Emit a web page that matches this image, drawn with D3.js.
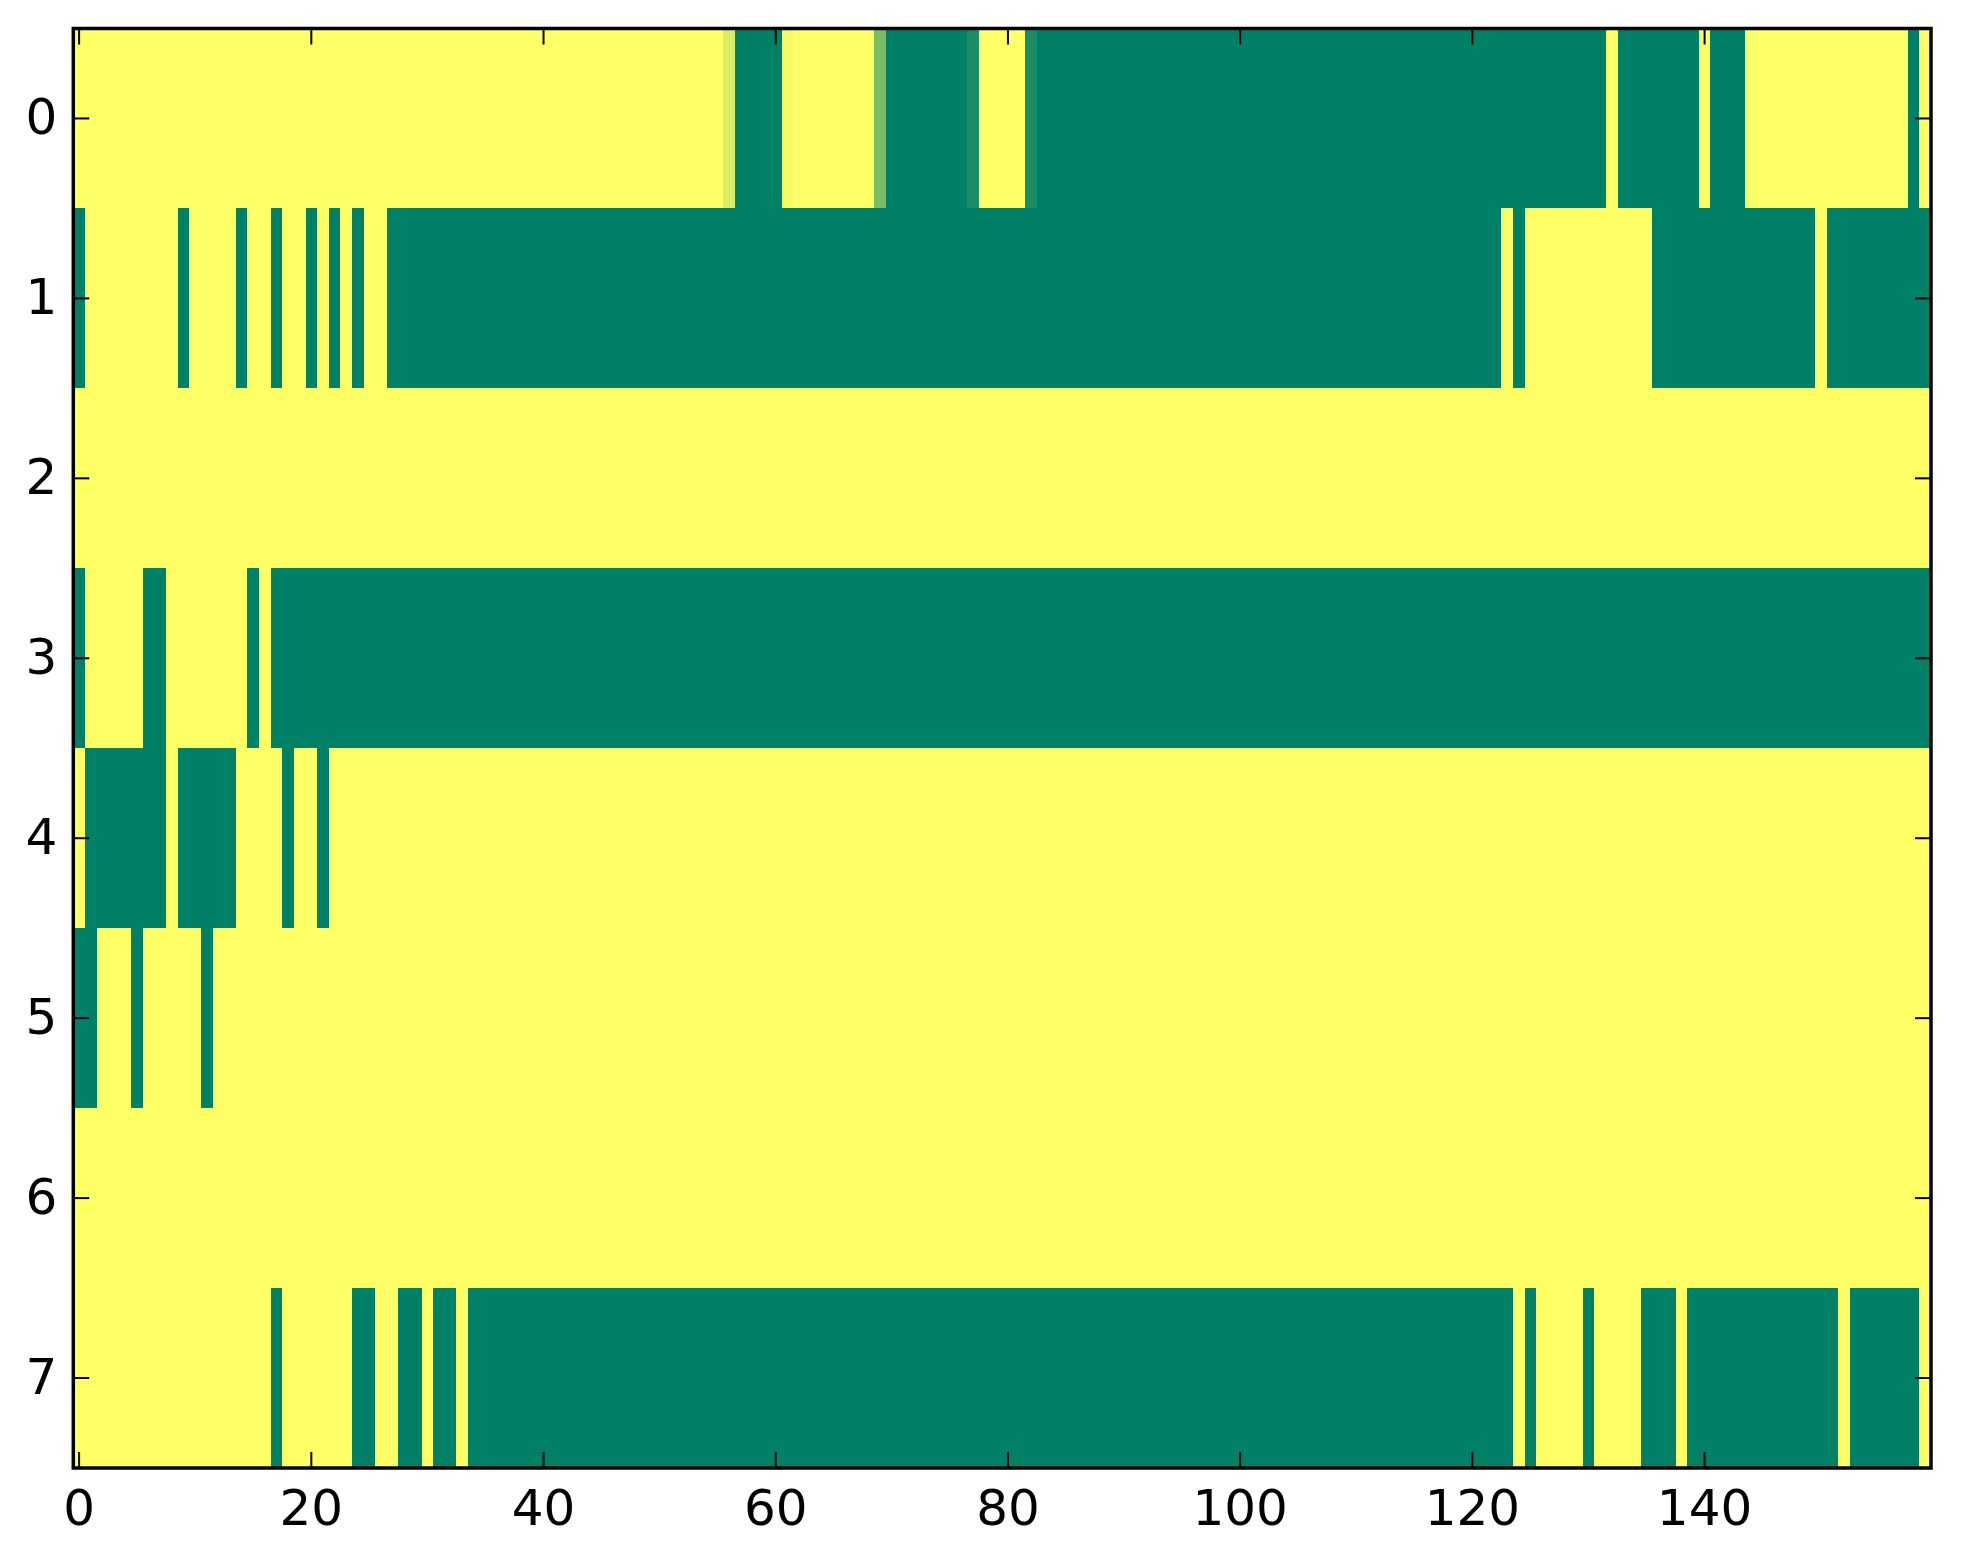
<!DOCTYPE html>
<html>
<head>
<meta charset="utf-8">
<script src="https://cdn.jsdelivr.net/npm/d3@7"></script>
<style>
  body { margin: 0; background: #fff; }
  svg { display: block; }
</style>
</head>
<body>
<div id="chart"></div>
<script>
// each row is a list of runs: [value, number of cells], 1 = yellow, 0 = green
var row0 = [[1,56],[0.85,1],[0,4],[0.96,1],[1,7],[0.47,1],[0,7],[0.1,1],[1,4],[0.1,1],[0,49],[1,1],[0,7],[1,1],[0,3],[1,14],[0,1],[1,1]];
var row1 = [[0,1],[1,8],[0,1],[1,4],[0,1],[1,2],[0,1],[1,2],[0,1],[1,1],[0,1],[1,1],[0,1],[1,2],[0,96],[1,1],[0,1],[1,11],[0,14],[1,1],[0,9]];
var row2 = [[1,160]];
var row3 = [[0,1],[1,5],[0,2],[1,7],[0,1],[1,1],[0,143]];
var row4 = [[1,1],[0,7],[1,1],[0,5],[1,4],[0,1],[1,2],[0,1],[1,138]];
var row5 = [[0,2],[1,3],[0,1],[1,5],[0,1],[1,148]];
var row6 = [[1,160]];
var row7 = [[1,17],[0,1],[1,6],[0,2],[1,2],[0,2],[1,1],[0,2],[1,1],[0,90],[1,1],[0,1],[1,4],[0,1],[1,4],[0,3],[1,1],[0,13],[1,1],[0,6],[1,1]];

var rows = [row0, row1, row2, row3, row4, row5, row6, row7];
var xTicks = [0, 20, 40, 60, 80, 100, 120, 140];
var yTicks = [0, 1, 2, 3, 4, 5, 6, 7];

var nCols = 160;

// set the dimensions and margins of the graph
var W = 1963, H = 1564;
var margin = {top: 28.5, right: 32, bottom: 96, left: 73.3},
    width = W - margin.left - margin.right,
    height = H - margin.top - margin.bottom;

var svg = d3.select("#chart")
  .append("svg")
    .attr("width", W)
    .attr("height", H)
  .append("g")
    .attr("transform", "translate(" + margin.left + "," + margin.top + ")");

// expand runs into cells
var cells = [];
rows.forEach(function(r, ri) {
  var c = 0;
  r.forEach(function(run) {
    for (var k = 0; k < run[1]; k++) {
      cells.push({row: ri, col: c, value: run[0]});
      c++;
    }
  });
});

var x = d3.scaleBand()
  .domain(d3.range(nCols))
  .range([0, width])
  .paddingInner(0);

var y = d3.scaleBand()
  .domain(yTicks)
  .range([0, height])
  .paddingInner(0);

// matplotlib "summer" colormap is linear in rgb
var color = d3.scaleLinear()
  .domain([0, 1])
  .range(["#008066", "#ffff66"])
  .interpolate(d3.interpolateRgb);

svg.append("g")
  .attr("shape-rendering", "crispEdges")
  .selectAll("rect")
  .data(cells)
  .enter()
  .append("rect")
    .attr("x", d => x(d.col))
    .attr("y", d => y(d.row))
    .attr("width", d => x.bandwidth() + (d.col < nCols - 1 ? 1 : 0))
    .attr("height", d => y.bandwidth() + (d.row < 7 ? 1 : 0))
    .style("fill", d => color(d.value));

var font = "DejaVu Sans";

function styleAxis(g) {
  g.select(".domain").remove();
  g.selectAll(".tick line").attr("stroke", "#000").attr("stroke-width", 2);
  g.selectAll(".tick text")
    .attr("fill", "#000")
    .style("font-family", font)
    .style("font-size", "50px");
}

// bottom and top X axes
svg.append("g")
  .attr("transform", "translate(0," + height + ")")
  .call(d3.axisBottom(x).tickValues(xTicks).tickSize(-16).tickPadding(21))
  .call(styleAxis);
svg.append("g")
  .call(d3.axisTop(x).tickValues(xTicks).tickSize(-16).tickFormat(""))
  .call(styleAxis);

// left and right Y axes
svg.append("g")
  .call(d3.axisLeft(y).tickValues(yTicks).tickSize(-16).tickPadding(16))
  .call(styleAxis);
svg.append("g")
  .attr("transform", "translate(" + width + ",0)")
  .call(d3.axisRight(y).tickValues(yTicks).tickSize(-16).tickFormat(""))
  .call(styleAxis);

// frame
svg.append("rect")
  .attr("x", 0)
  .attr("y", 0)
  .attr("width", width)
  .attr("height", height)
  .attr("fill", "none")
  .attr("stroke", "#000")
  .attr("stroke-width", 3.5);
</script>
</body>
</html>
